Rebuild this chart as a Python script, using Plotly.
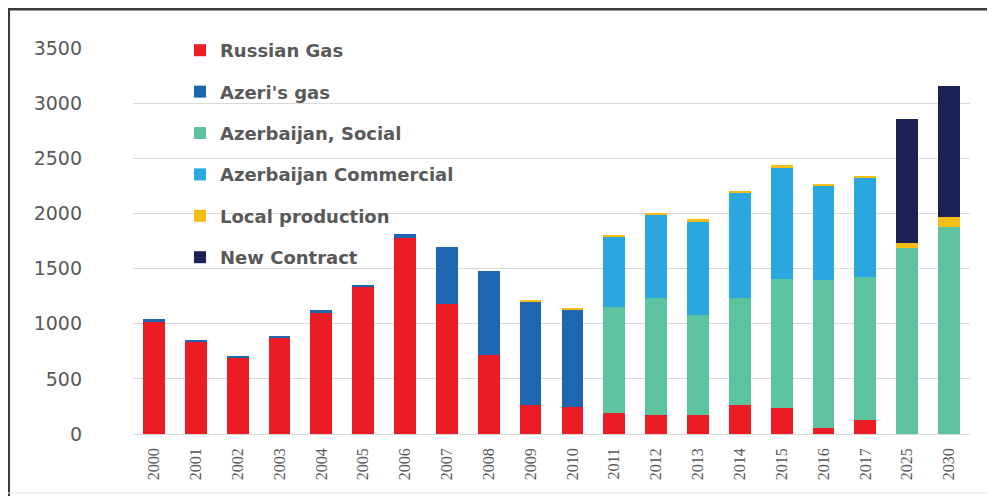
import plotly.graph_objects as go

years = ["2000", "2001", "2002", "2003", "2004", "2005", "2006", "2007", "2008", "2009",
         "2010", "2011", "2012", "2013", "2014", "2015", "2016", "2017", "2025", "2030"]
russian_gas = [1020, 830, 690, 870, 1100, 1330, 1780, 1180, 720, 260,
               245, 190, 175, 170, 260, 235, 50, 125, 0, 0]
azeri_gas = [20, 20, 20, 20, 20, 20, 30, 520, 760, 940,
             880, 0, 0, 0, 0, 0, 0, 0, 0, 0]
az_social = [0, 0, 0, 0, 0, 0, 0, 0, 0, 0,
             0, 960, 1055, 910, 970, 1175, 1345, 1300, 1685, 1880]
az_commercial = [0, 0, 0, 0, 0, 0, 0, 0, 0, 0,
                 0, 640, 760, 850, 960, 1010, 860, 900, 0, 0]
local_production = [0, 0, 0, 0, 0, 0, 0, 0, 0, 15,
                    15, 15, 15, 15, 15, 15, 15, 15, 45, 90]
new_contract = [0, 0, 0, 0, 0, 0, 0, 0, 0, 0,
                0, 0, 0, 0, 0, 0, 0, 0, 1130, 1185]

series = [
    ("Russian Gas", russian_gas, "#EC1C24"),
    ("Azeri's gas", azeri_gas, "#1F66B0"),
    ("Azerbaijan, Social", az_social, "#5DC29E"),
    ("Azerbaijan Commercial", az_commercial, "#2AA7DE"),
    ("Local production", local_production, "#F5BE16"),
    ("New Contract", new_contract, "#1B2258"),
]

fig = go.Figure()
for i, (name, vals, col) in enumerate(series):
    fig.add_trace(go.Bar(x=years, y=vals, name=name, marker_color=col,
                         marker_line_width=0, legendgroup=f"g{i}", width=0.52))

# page offset from default body margin
OFF = 8
W, H = 995 - OFF, 496 - OFF
ml, mt = 133 - OFF, 48 - OFF
plot_right, plot_bottom = 970 - OFF, 434 - OFF
mr, mb = W - plot_right, H - plot_bottom
pw, ph = plot_right - ml, plot_bottom - mt

def px_x(px):
    return (px - OFF - ml) / pw

def px_y(py):
    return (plot_bottom - (py - OFF)) / ph

fig.update_layout(
    width=W, height=H,
    margin=dict(l=ml, r=mr, t=mt, b=mb),
    barmode="stack",
    plot_bgcolor="white", paper_bgcolor="white",
    font=dict(family="DejaVu Sans", color="#595959"),
    legend=dict(
        x=px_x(180), y=px_y(32), xanchor="left", yanchor="top",
        traceorder="grouped", tracegroupgap=15, maxheight=450,
        font=dict(family="DejaVu Sans", size=18, color="#595959", weight="bold"),
        bgcolor="rgba(0,0,0,0)",
    ),
    xaxis=dict(
        tickangle=-90, tickfont=dict(family="Liberation Serif", size=16, color="#595959"),
        showgrid=False, ticks="", ticklabelstandoff=10, showline=False,
    ),
    yaxis=dict(
        range=[0, 3500], dtick=500, showgrid=True, gridcolor="#D9D9D9", gridwidth=1,
        zeroline=True, zerolinecolor="#D9D9D9", zerolinewidth=1,
        tickfont=dict(family="DejaVu Sans", size=19, color="#595959"),
        ticklabelstandoff=50,
    ),
    shapes=[
        dict(type="line", xref="paper", yref="paper", x0=px_x(0), x1=px_x(995),
             y0=px_y(9), y1=px_y(9), line=dict(color="#3a3a3a", width=3)),
        dict(type="line", xref="paper", yref="paper", x0=px_x(9), x1=px_x(9),
             y0=px_y(8), y1=px_y(496), line=dict(color="#3a3a3a", width=2)),
        dict(type="line", xref="paper", yref="paper", x0=px_x(8), x1=px_x(995),
             y0=px_y(493), y1=px_y(493), line=dict(color="#e6e6e6", width=1)),
    ],
)

fig.write_html("out.html")
